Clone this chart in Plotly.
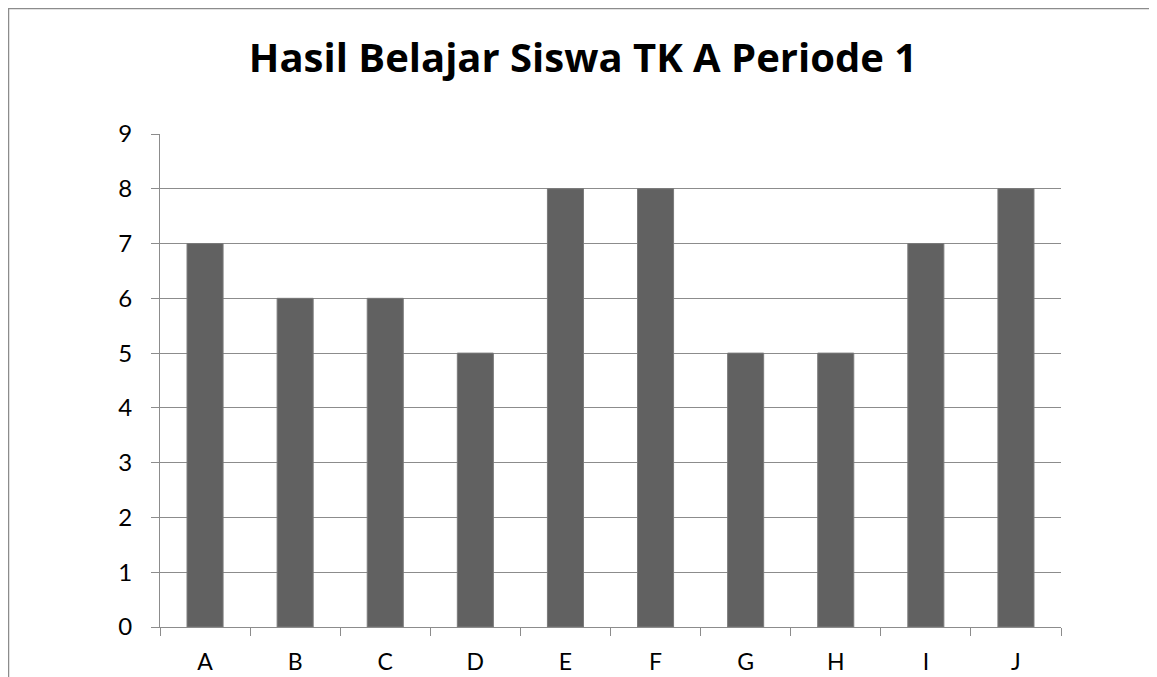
import plotly.graph_objects as go

categories = ["A", "B", "C", "D", "E", "F", "G", "H", "I", "J"]
values = [7, 6, 6, 5, 8, 8, 5, 5, 7, 8]
title_text = "Hasil Belajar Siswa TK A Periode 1"

# page body has an 8px offset; figure is sized to fit the viewport
W, H = 1149, 669
L, R, T, B = 152, 96, 126, 50
pw = W - L - R
ph = H - T - B

fig = go.Figure(go.Bar(
    x=categories, y=values,
    marker=dict(color="#616161", line=dict(color="#7a7a7a", width=1)),
))

FONT = "Lato, Carlito, Calibri, Liberation Sans, sans-serif"
TFONT = "Open Sans, Lato, sans-serif"

fig.update_layout(
    width=W, height=H,
    margin=dict(l=L, r=R, t=T, b=B, autoexpand=False),
    paper_bgcolor="white", plot_bgcolor="white",
    bargap=0.6,
    showlegend=False,
    font=dict(family=FONT, color="#000000"),
    title=dict(text="<b>" + title_text + "</b>", x=(583 - 8 - L) / pw, xref="paper", xanchor="center",
               y=1 - 50 / H, yanchor="middle",
               font=dict(size=40, family=TFONT, color="#000000")),
)

fig.update_xaxes(
    type="category", showgrid=False, showline=True, linecolor="#8c8c8c", linewidth=1,
    ticks="outside", tickson="boundaries", ticklen=8, tickcolor="#8c8c8c",
    tickfont=dict(size=23), ticklabelstandoff=14, automargin=False,
)
fig.update_yaxes(
    range=[0, 9], dtick=1, showgrid=True, gridcolor="#8c8c8c", gridwidth=1,
    showline=True, linecolor="#8c8c8c", linewidth=1, zeroline=False,
    ticks="outside", ticklen=8, tickcolor="#8c8c8c",
    tickfont=dict(size=24), ticklabelstandoff=14, automargin=False,
)

# outer chart frame (left and top edges visible)
fig.add_shape(type="rect", xref="paper", yref="paper",
              x0=(0.5 - L) / pw, x1=(W + 20 - L) / pw,
              y0=-(B + 20) / ph, y1=(H - B - 0.5) / ph,
              line=dict(color="#8c8c8c", width=1.5), fillcolor="rgba(0,0,0,0)", layer="below")

fig.write_html("out.html")
